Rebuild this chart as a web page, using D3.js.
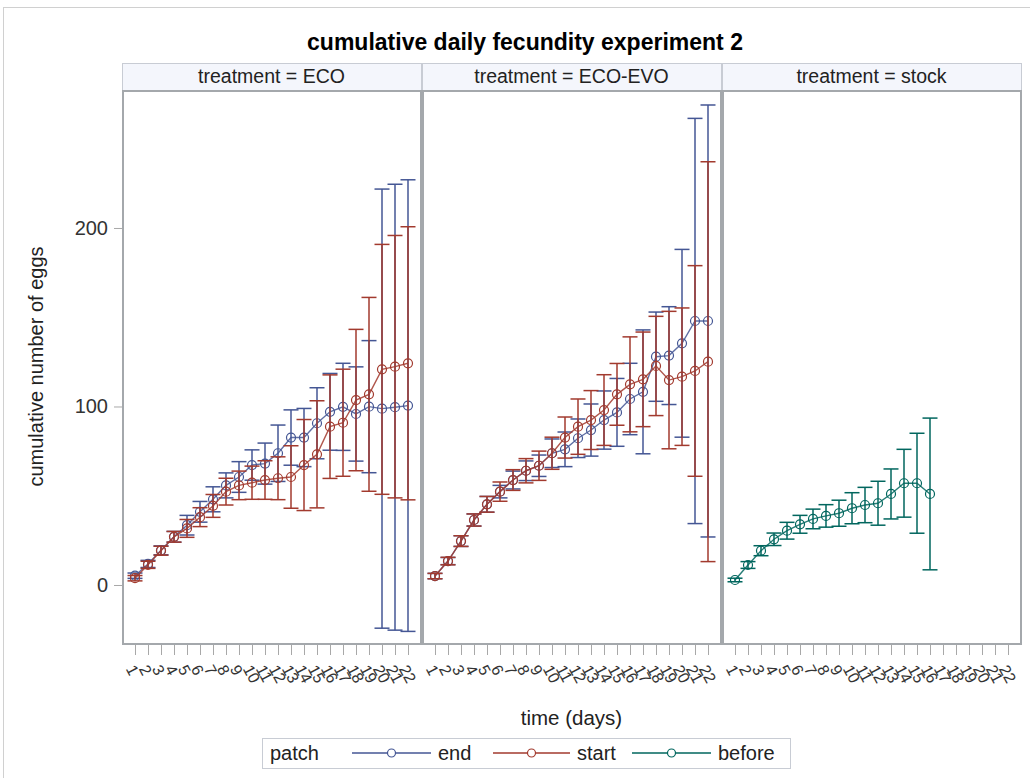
<!DOCTYPE html>
<html>
<head>
<meta charset="utf-8">
<script src="https://cdn.jsdelivr.net/npm/d3@7"></script>
<style>
  html, body { margin: 0; padding: 0; background: #fff; }
  svg text { font-family: "Liberation Sans", Arial, sans-serif; }
</style>
</head>
<body>
<svg id="chart" width="1030" height="778"></svg>
<script>
// Days and panel labels
const dayLabels = ["1","2","3","4","5","6","7","8","9","10","11","12","13","14","15","16","17","18","19","20","21","22"];
const treatments = ["ECO", "ECO-EVO", "stock"];
const patches = ["end", "start", "before"];
const yTickValues = [0, 100, 200];

// Cumulative mean eggs per day, with confidence half-widths
const ecoEndMean   = [5.2, 11.8, 19.4, 27.0, 33.5, 41.0, 48.0, 55.8, 60.5, 67.2, 68.0, 73.8, 82.6, 82.6, 90.6, 97.0, 99.8, 95.8, 99.9, 98.8, 99.6, 100.5];
const ecoEndCI     = [1.5, 2.0, 2.5, 3.0, 5.5, 5.8, 7.0, 7.0, 8.6, 8.5, 11.5, 15.8, 15.5, 16.3, 19.9, 21.5, 24.4, 26.4, 37.0, 123.0, 124.9, 126.5];
const ecoStartMean = [3.8, 11.3, 19.2, 27.0, 31.7, 38.0, 44.3, 52.3, 55.8, 57.3, 58.8, 59.8, 60.5, 67.2, 73.2, 88.7, 90.9, 103.6, 106.8, 120.8, 122.3, 124.2];
const ecoStartCI   = [1.5, 2.0, 2.5, 3.0, 5.0, 5.3, 6.4, 7.5, 8.0, 9.3, 10.8, 12.0, 17.5, 25.5, 30.0, 29.0, 30.0, 39.6, 54.3, 70.0, 73.5, 76.5];

const evoEndMean   = [5.0, 13.4, 24.6, 36.4, 45.2, 52.3, 58.8, 64.0, 66.8, 73.8, 76.0, 82.2, 86.8, 92.4, 96.7, 104.2, 108.2, 127.9, 128.5, 135.4, 147.9, 147.9];
const evoEndCI     = [1.5, 2.0, 3.0, 3.4, 4.4, 3.5, 5.0, 5.5, 6.0, 8.0, 9.7, 10.8, 14.6, 16.3, 19.0, 20.0, 34.7, 25.0, 27.4, 52.6, 113.5, 121.0];
const evoStartMean = [5.0, 13.4, 24.6, 36.4, 45.2, 52.3, 58.8, 64.0, 66.8, 73.8, 82.6, 88.7, 92.4, 98.0, 106.8, 112.4, 115.2, 122.7, 114.8, 116.7, 119.9, 125.1];
const evoStartCI   = [1.5, 2.1, 3.0, 3.4, 4.4, 5.4, 5.8, 6.8, 8.2, 9.0, 11.5, 15.5, 16.5, 19.8, 17.3, 26.6, 26.5, 27.8, 38.5, 38.5, 59.0, 112.0];

const stockBeforeMean = [2.8, 11.2, 19.2, 25.6, 30.4, 34.0, 37.0, 38.7, 40.2, 43.0, 44.8, 45.8, 51.0, 57.0, 57.0, 51.0];
const stockBeforeCI   = [1.0, 1.9, 2.8, 3.5, 4.7, 5.0, 5.5, 6.3, 7.3, 8.7, 9.9, 12.3, 14.0, 19.0, 28.0, 42.5];

const patchColor = { end: "#445694", start: "#A23A2E", before: "#01665E" };

// Series grouped by panel, drawn in this order
const panelSeries = [
  [ { patch: "end", mean: ecoEndMean, ci: ecoEndCI }, { patch: "start", mean: ecoStartMean, ci: ecoStartCI } ],
  [ { patch: "end", mean: evoEndMean, ci: evoEndCI }, { patch: "start", mean: evoStartMean, ci: evoStartCI } ],
  [ { patch: "before", mean: stockBeforeMean, ci: stockBeforeCI } ]
];

const svg = d3.select("#chart");

// outer frame
svg.append("rect").attr("x", 3.5).attr("y", 7.5).attr("width", 1060).attr("height", 800)
  .attr("fill", "none").attr("stroke", "#d0d0d0").attr("stroke-width", 1);

svg.append("text").attr("x", 525).attr("y", 50).attr("text-anchor", "middle")
  .attr("font-size", 23).attr("font-weight", "bold").attr("fill", "#000")
  .text("cumulative daily fecundity experiment 2");

const plotTop = 90, plotBottom = 643, panelW = 299, panelLeft = 122, panelStep = 300;
const headerTop = 63;

const y = d3.scaleLinear().domain([-32.5, 277.3]).range([plotBottom, plotTop]);

treatments.forEach((t, i) => {
  const x0 = panelLeft + panelStep * i;
  const x = d3.scalePoint().domain(dayLabels).range([x0, x0 + panelW]).padding(1);
  const g = svg.append("g");

  // header strip
  g.append("rect").attr("x", x0 + 0.5).attr("y", headerTop + 0.5).attr("width", panelW).attr("height", plotTop - headerTop)
    .attr("fill", "#F4F6FC").attr("stroke", "#C8CCD4");
  g.append("text").attr("x", x0 + panelW / 2).attr("y", headerTop + 20).attr("text-anchor", "middle")
    .attr("font-size", 19.5).attr("fill", "#222").text("treatment = " + t);

  // x axis
  const xAxis = d3.axisBottom(x).tickSize(10).tickPadding(4);
  const ax = g.append("g").attr("transform", `translate(0,${plotBottom + 2})`).call(xAxis);
  ax.select(".domain").remove();
  ax.selectAll(".tick line").attr("stroke", "#a8a8a8");
  ax.selectAll(".tick text")
    .attr("font-size", 16).attr("fill", "#333")
    .attr("text-anchor", "start")
    .attr("x", 0).attr("y", 0).attr("dy", "0.35em")
    .attr("transform", "translate(-5,21) rotate(62)");

  // data
  panelSeries[i].forEach(s => {
    const col = patchColor[s.patch];
    const pts = s.mean.map((m, k) => ({ day: dayLabels[k], m, lo: m - s.ci[k], hi: m + s.ci[k] }));
    const line = d3.line().x(d => x(d.day)).y(d => y(d.m));
    g.append("path").datum(pts).attr("d", line).attr("fill", "none")
      .attr("stroke", col).attr("stroke-width", 1.4).attr("stroke-opacity", 0.85);
    const eb = g.append("g").attr("stroke", col).attr("stroke-width", 1.5).attr("fill", "none");
    pts.forEach(d => {
      eb.append("line").attr("x1", x(d.day)).attr("x2", x(d.day)).attr("y1", y(d.lo)).attr("y2", y(d.hi));
      eb.append("line").attr("x1", x(d.day) - 7.5).attr("x2", x(d.day) + 7.5).attr("y1", y(d.lo)).attr("y2", y(d.lo));
      eb.append("line").attr("x1", x(d.day) - 7.5).attr("x2", x(d.day) + 7.5).attr("y1", y(d.hi)).attr("y2", y(d.hi));
    });
    g.append("g").selectAll("circle").data(pts).join("circle")
      .attr("cx", d => x(d.day)).attr("cy", d => y(d.m)).attr("r", 4.5)
      .attr("fill", "none").attr("stroke", col).attr("stroke-width", 1.2);
  });

  // panel frame
  g.append("rect").attr("x", x0 + 1).attr("y", plotTop + 1).attr("width", panelW - 1).attr("height", plotBottom - plotTop)
    .attr("fill", "none").attr("stroke", "#A4A8AC").attr("stroke-width", 2);
});

// y axis
const yAx = svg.append("g").attr("transform", `translate(${panelLeft},0)`)
  .call(d3.axisLeft(y).tickValues(yTickValues).tickSize(8).tickPadding(6));
yAx.select(".domain").remove();
yAx.selectAll(".tick line").attr("stroke", "#a8a8a8");
yAx.selectAll(".tick text").attr("font-size", 20).attr("fill", "#333");

svg.append("text").attr("transform", `translate(43,${(plotTop + plotBottom) / 2}) rotate(-90)`)
  .attr("text-anchor", "middle").attr("font-size", 20).attr("fill", "#222").text("cumulative number of eggs");

svg.append("text").attr("x", panelLeft + (panelStep * 3 - 1) / 2).attr("y", 725).attr("text-anchor", "middle")
  .attr("font-size", 20.5).attr("fill", "#222").text("time (days)");

// legend
const lg = svg.append("g");
lg.append("rect").attr("x", 262.5).attr("y", 738.5).attr("width", 528).attr("height", 30)
  .attr("fill", "#fff").attr("stroke", "#C8CCD4");
lg.append("text").attr("x", 270).attr("y", 760).attr("font-size", 20).attr("fill", "#222").text("patch");
const legendItems = [
  { patch: "end", x1: 352, x2: 431 },
  { patch: "start", x1: 493, x2: 570 },
  { patch: "before", x1: 632, x2: 711 }
];
legendItems.forEach(it => {
  const col = patchColor[it.patch];
  lg.append("line").attr("x1", it.x1).attr("x2", it.x2).attr("y1", 753).attr("y2", 753)
    .attr("stroke", col).attr("stroke-width", 1.5);
  lg.append("circle").attr("cx", (it.x1 + it.x2) / 2).attr("cy", 753).attr("r", 4)
    .attr("fill", "#fff").attr("stroke", col).attr("stroke-width", 1.2);
  lg.append("text").attr("x", it.x2 + 7).attr("y", 760).attr("font-size", 20).attr("fill", "#222").text(it.patch);
});
</script>
</body>
</html>
